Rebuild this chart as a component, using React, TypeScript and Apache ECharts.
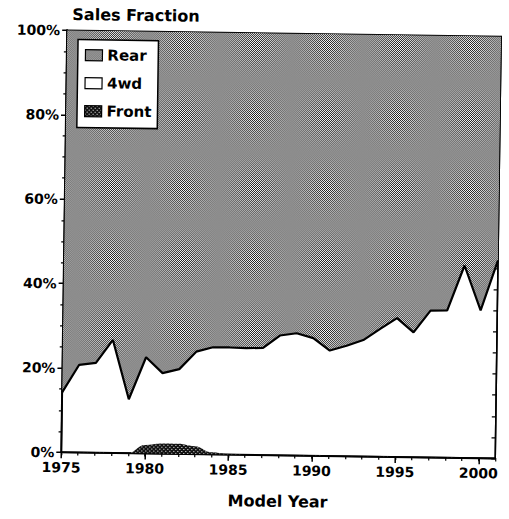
import { useEffect, useRef } from "react";
import * as echarts from "echarts";

const years = [
  "1975", "1976", "1977", "1978", "1979", "1980", "1981", "1982", "1983",
  "1984", "1985", "1986", "1987", "1988", "1989", "1990", "1991", "1992",
  "1993", "1994", "1995", "1996", "1997", "1998", "1999", "2000", "2001",
];

// Sales fraction (%) by drive type, stacked to 100%
const frontShare = [
  0, 0, 0, 0, 0, 2.0, 2.4, 2.4, 1.9, 0.5, 0.1, 0, 0, 0, 0, 0, 0, 0, 0, 0, 0,
  0, 0, 0, 0, 0, 0,
];
const fourWdShare = [
  14.2, 20.8, 21.3, 26.8, 12.8, 20.8, 16.7, 17.7, 22.4, 24.9, 25.3, 25.3, 25.4,
  28.4, 29.0, 27.9, 25.0, 26.2, 27.6, 30.3, 32.9, 29.6, 34.8, 34.9, 45.6, 35.0,
  46.9,
];
const rearShare = [
  85.8, 79.2, 78.7, 73.2, 87.2, 77.2, 80.9, 79.9, 75.7, 74.6, 74.6, 74.7, 74.6,
  71.6, 71.0, 72.1, 75.0, 73.8, 72.4, 69.7, 67.1, 70.4, 65.2, 65.1, 54.4, 65.0,
  53.1,
];
const legendOrder = ["Rear", "4wd", "Front"];

const FONT = "DejaVu Sans";

function makePattern(size: number, light: [number, number][], base: string, dot: string) {
  const c = document.createElement("canvas");
  c.width = size;
  c.height = size;
  const ctx = c.getContext("2d")!;
  ctx.fillStyle = base;
  ctx.fillRect(0, 0, size, size);
  ctx.fillStyle = dot;
  light.forEach(([x, y]) => ctx.fillRect(x, y, 1, 1));
  return {
    image: c.toDataURL(),
    repeat: "repeat",
    imageWidth: size,
    imageHeight: size,
  } as any;
}

export default function App() {
  const ref = useRef<HTMLDivElement>(null);

  useEffect(() => {
    if (!ref.current) return;
    const chart = echarts.init(ref.current, undefined, { renderer: "svg" });

    const rearFill = makePattern(2, [[0, 0], [1, 1]], "#ffffff", "#1a1a1a");
    const frontFill = makePattern(4, [[0, 0], [2, 2]], "#111111", "#ffffff");

    const labelStyle = {
      fontFamily: FONT,
      fontWeight: "bold" as const,
      fontSize: 14,
      color: "#000",
    };

    chart.setOption({
      animation: false,
      backgroundColor: "#fff",
      title: {
        text: "Sales Fraction",
        left: 69,
        top: 9,
        padding: 0,
        textStyle: { fontFamily: FONT, fontWeight: "bold", fontSize: 16, color: "#000" },
      },
      legend: {
        orient: "vertical",
        left: 75,
        top: 42,
        padding: [8, 6, 9, 7],
        itemGap: 13,
        itemWidth: 17,
        itemHeight: 11,
        backgroundColor: "#fff",
        borderColor: "#000",
        borderWidth: 1.5,
        selectedMode: false,
        textStyle: { fontFamily: FONT, fontWeight: "bold", fontSize: 15, color: "#000" },
        data: legendOrder.map((name) => ({
          name,
          icon: "rect",
          itemStyle: {
            color: name === "Rear" ? rearFill : name === "Front" ? frontFill : "#fff",
            borderColor: "#000",
            borderWidth: 1.2,
          },
        })),
      },
      grid: {
        left: 64,
        right: 11,
        top: 33,
        bottom: 64,
        show: true,
        borderColor: "#000",
        borderWidth: 1.5,
        backgroundColor: "transparent",
      },
      xAxis: [
        {
          type: "category",
          data: years,
          boundaryGap: false,
          position: "bottom",
          axisLine: { lineStyle: { color: "#000", width: 2 } },
          axisTick: { interval: 0, length: 3, lineStyle: { color: "#000", width: 1.2 } },
          axisLabel: {
            ...labelStyle,
            margin: 8,
            interval: (i: number) => i % 5 === 0,
          },
          splitLine: { show: false },
          name: "Model Year",
          nameLocation: "middle",
          nameGap: 38,
          nameTextStyle: { fontFamily: FONT, fontWeight: "bold", fontSize: 16, color: "#000" },
        },
        {
          type: "category",
          data: years,
          boundaryGap: false,
          position: "bottom",
          axisLine: { show: false },
          axisTick: {
            interval: (i: number) => i % 5 === 0,
            length: 6,
            lineStyle: { color: "#000", width: 1.5 },
          },
          axisLabel: { show: false },
          splitLine: { show: false },
        },
      ],
      yAxis: [
        {
          type: "value",
          min: 0,
          max: 100,
          interval: 20,
          position: "left",
          axisLine: { show: true, lineStyle: { color: "#000", width: 2 } },
          axisTick: { show: true, length: 5, lineStyle: { color: "#000", width: 1.5 } },
          minorTick: { show: true, splitNumber: 4, length: 3, lineStyle: { color: "#000", width: 1.2 } },
          axisLabel: { ...labelStyle, margin: 7, formatter: "{value}%" },
          splitLine: { show: false },
        },
        {
          type: "value",
          min: 0,
          max: 100,
          interval: 5,
          position: "right",
          axisLine: { show: true, lineStyle: { color: "#000", width: 1.5 } },
          axisTick: { show: true, inside: true, length: 4, lineStyle: { color: "#000", width: 1.2 } },
          axisLabel: { show: false },
          splitLine: { show: false },
        },
      ],
      series: [
        {
          name: "Front",
          type: "line",
          stack: "total",
          data: frontShare,
          smooth: 0.4,
          smoothMonotone: "x",
          symbol: "none",
          lineStyle: { width: 0 },
          areaStyle: { color: frontFill, opacity: 1 },
          itemStyle: { color: "#111" },
          z: 2,
        },
        {
          name: "4wd",
          type: "line",
          stack: "total",
          data: fourWdShare,
          symbol: "none",
          lineStyle: { color: "#000", width: 2.2 },
          itemStyle: { color: "#fff" },
          z: 4,
        },
        {
          name: "Rear",
          type: "line",
          stack: "total",
          data: rearShare,
          symbol: "none",
          lineStyle: { width: 0 },
          areaStyle: { color: rearFill, opacity: 1 },
          itemStyle: { color: "#888" },
          z: 2,
        },
      ],
    });

    return () => chart.dispose();
  }, []);

  return (
    <div
      ref={ref}
      style={{
        position: "absolute",
        left: 0,
        top: 0,
        width: 509,
        height: 519,
        transform: "rotate(0.8deg)",
      }}
    />
  );
}
